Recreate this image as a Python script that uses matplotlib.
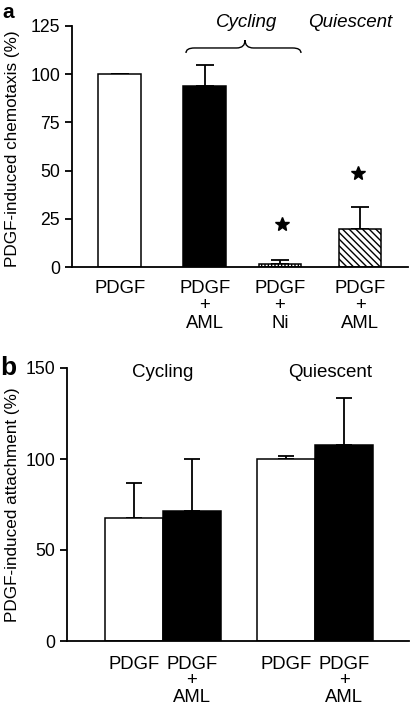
import matplotlib
matplotlib.use("Agg")
import matplotlib.pyplot as plt
from matplotlib.path import Path
from matplotlib.patches import PathPatch

plt.rcParams['font.family'] = ['Liberation Sans', 'DejaVu Sans']

# ---- Panel a data ----
a_labels = ["PDGF", "PDGF\n+\nAML", "PDGF\n+\nNi", "PDGF\n+\nAML"]
a_values = [100, 94, 1.5, 19.5]
a_err_up = [0, 11, 2, 11.5]
a_star_values = [22.3, 48.5]
a_yticks = [0, 25, 50, 75, 100, 125]

# ---- Panel b data ----
b_labels = ["PDGF", "PDGF\n+\nAML", "PDGF", "PDGF\n+\nAML"]
b_values = [67.4, 71.4, 100, 107.5]
b_err_up = [19.6, 28.6, 1.6, 26.0]
b_yticks = [0, 50, 100, 150]

# layout constants
a_pos = [0.568, 1.58, 2.476, 3.43]
a_width = 0.506
a_star_pos = [2.50, 3.40]
b_pos = [0.78, 1.46, 2.56, 3.24]
b_width = 0.68

W, H = 416, 707
fig = plt.figure(figsize=(W / 100, H / 100), dpi=100)

def frac(x0, y0, x1, y1):
    return [x0 / W, 1 - y1 / H, (x1 - x0) / W, (y1 - y0) / H]

lw = 1.3

def style(ax):
    for s in ['top', 'right']:
        ax.spines[s].set_visible(False)
    for s in ['left', 'bottom']:
        ax.spines[s].set_linewidth(lw)
    ax.tick_params(axis='y', direction='out', length=5, width=lw, pad=3.5,
                   labelsize=12.7)

# ---------------- Panel a ----------------
ax1 = fig.add_axes(frac(72, 26, 408, 267))
style(ax1)
fills = ['white', 'black', 'white', 'white']
hatches = [None, None, '|||||', '\\' * 5]
for x, v, fc, h in zip(a_pos, a_values, fills, hatches):
    ax1.bar(x, v, width=a_width, color=fc, edgecolor='black', linewidth=1.1,
            hatch=h, zorder=2)
ax1.errorbar(a_pos, a_values, yerr=[[0] * 4, a_err_up], fmt='none',
             ecolor='black', elinewidth=1.3, capsize=6.5, capthick=1.3, zorder=1)
ax1.plot(a_star_pos, a_star_values, linestyle='none', marker='*',
         markersize=10.5, color='black')
ax1.set_xlim(0, 4)
ax1.set_ylim(0, 125)
ax1.set_yticks(a_yticks)
ax1.set_xticks(a_pos)
ax1.set_xticklabels(a_labels, fontsize=13.3, linespacing=1.07)
ax1.tick_params(axis='x', length=0, pad=9)
ax1.set_ylabel("PDGF-induced chemotaxis (%)", fontsize=12.3)
ax1.yaxis.set_label_coords(-0.155, 0.49)

# brace
bx0, bx1, bmid = 1.357, 2.726, 2.06
yb, ye, yt = 113.6, 111.0, 117.7
verts = [(bx0, ye), (bx0, yb), (bx0 + 0.1, yb),
         (bmid - 0.1, yb),
         (bmid, yb), (bmid, yt),
         (bmid, yb), (bmid + 0.1, yb),
         (bx1 - 0.1, yb),
         (bx1, yb), (bx1, ye)]
codes = [Path.MOVETO, Path.CURVE3, Path.CURVE3,
         Path.LINETO,
         Path.CURVE3, Path.CURVE3,
         Path.CURVE3, Path.CURVE3,
         Path.LINETO,
         Path.CURVE3, Path.CURVE3]
ax1.add_patch(PathPatch(Path(verts, codes), fill=False, lw=1.0,
                        edgecolor='black', clip_on=False))
ax1.text(2.08, 126.6, "Cycling", style='italic', fontsize=13.5,
         ha='center', va='center')
ax1.text(3.31, 126.6, "Quiescent", style='italic', fontsize=13.5,
         ha='center', va='center')

fig.text(2 / W, 1 - 18 / H, "a", fontsize=15, fontweight='bold',
         ha='left', va='baseline')

# ---------------- Panel b ----------------
ax2 = fig.add_axes(frac(67, 368, 409, 641))
style(ax2)
b_fills = ['white', 'black', 'white', 'black']
for x, v, fc in zip(b_pos, b_values, b_fills):
    ax2.bar(x, v, width=b_width, color=fc, edgecolor='black', linewidth=1.1,
            zorder=2)
ax2.errorbar(b_pos, b_values, yerr=[[0] * 4, b_err_up], fmt='none',
             ecolor='black', elinewidth=1.3, capsize=5.5, capthick=1.3, zorder=1)
ax2.set_xlim(0, 4)
ax2.set_ylim(0, 150)
ax2.set_yticks(b_yticks)
ax2.set_xticks(b_pos)
ax2.set_xticklabels(b_labels, fontsize=13.3, linespacing=0.98)
ax2.tick_params(axis='x', length=0, pad=10.5)
ax2.set_ylabel("PDGF-induced attachment (%)", fontsize=12.3)
ax2.yaxis.set_label_coords(-0.137, 0.5)
ax2.text(1.12, 147.8, "Cycling", fontsize=13.5, ha='center', va='center')
ax2.text(3.08, 147.8, "Quiescent", fontsize=13.5, ha='center', va='center')

fig.text(0 / W, 1 - 375 / H, "b", fontsize=19, fontweight='bold',
         ha='left', va='baseline')

fig.savefig("out.png", dpi=100)
